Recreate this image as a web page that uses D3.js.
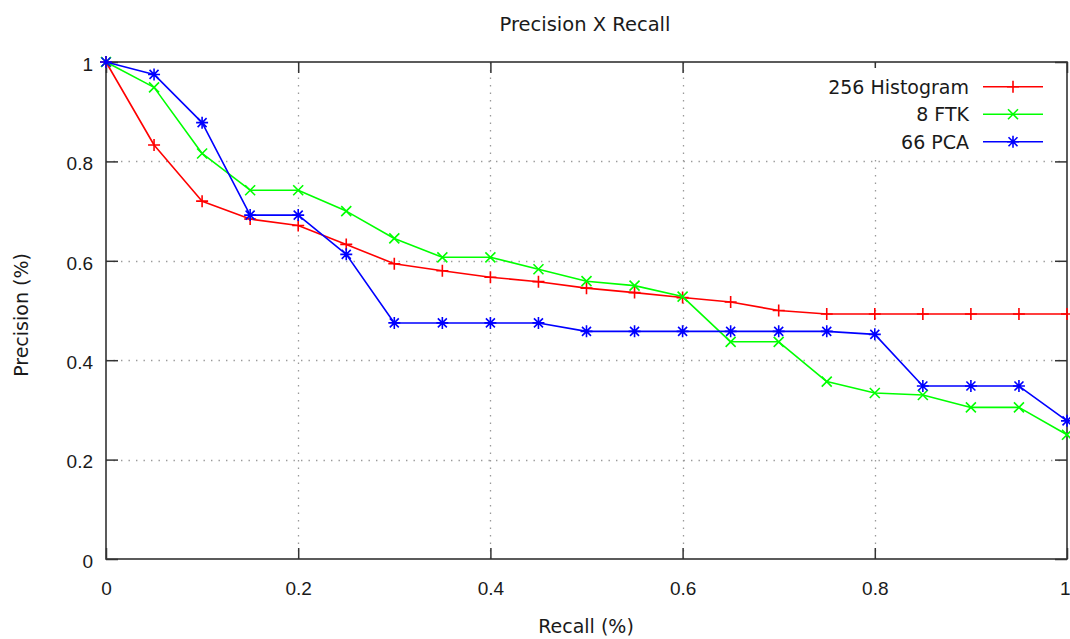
<!DOCTYPE html>
<html>
<head>
<meta charset="utf-8">
<script src="https://cdn.jsdelivr.net/npm/d3@7"></script>
<style>
  html, body { margin: 0; padding: 0; background: #fff; }
  svg { display: block; font-family: "DejaVu Sans", Verdana, sans-serif; }
</style>
</head>
<body>
<svg id="chart" width="1070" height="639"></svg>
<script>
// Recall levels shared by all three curves
const recall = [0, 0.05, 0.1, 0.15, 0.2, 0.25, 0.3, 0.35, 0.4, 0.45, 0.5,
                0.55, 0.6, 0.65, 0.7, 0.75, 0.8, 0.85, 0.9, 0.95, 1];

// Precision at each recall level
const histogram256 = [1.0, 0.833, 0.720, 0.684, 0.671, 0.633, 0.594, 0.580, 0.567, 0.558, 0.545,
                      0.536, 0.526, 0.517, 0.500, 0.493, 0.493, 0.493, 0.493, 0.493, 0.493];
const ftk8 = [1.0, 0.949, 0.816, 0.742, 0.742, 0.700, 0.645, 0.607, 0.607, 0.583, 0.559,
              0.550, 0.528, 0.437, 0.437, 0.357, 0.334, 0.330, 0.305, 0.305, 0.250];
const pca66 = [1.0, 0.975, 0.878, 0.692, 0.692, 0.613, 0.475, 0.475, 0.475, 0.475, 0.458,
               0.458, 0.458, 0.458, 0.458, 0.458, 0.452, 0.348, 0.348, 0.348, 0.278];

const seriesNames = ["256 Histogram", "8 FTK", "66 PCA"];
const seriesValues = [histogram256, ftk8, pca66];
const seriesColors = ["#ff0000", "#00ff00", "#0000ff"];
const seriesMarkers = ["plus", "cross", "star"];

const xTicks = [0, 0.2, 0.4, 0.6, 0.8, 1];
const yTicks = [0, 0.2, 0.4, 0.6, 0.8, 1];
const xTickLabels = ["0", "0.2", "0.4", "0.6", "0.8", "1"];
const yTickLabels = ["0", "0.2", "0.4", "0.6", "0.8", "1"];

const plot = { left: 106, right: 1067, top: 62, bottom: 559 };
const textColor = "#1a1a1a";
const axisColor = "#333";

const svg = d3.select("#chart");

const x = d3.scaleLinear().domain([0, 1]).range([plot.left, plot.right]);
const y = d3.scaleLinear().domain([0, 1]).range([plot.bottom, plot.top]);

// Dotted grid
const grid = svg.append("g").attr("class", "grid")
  .attr("stroke", "#9a9a9a").attr("stroke-width", 1.3)
  .attr("stroke-dasharray", "1.4,6.1");
grid.selectAll("line.v").data(xTicks.filter(d => d > 0 && d < 1)).join("line")
  .attr("class", "v")
  .attr("x1", d => Math.round(x(d)) + 0.5).attr("x2", d => Math.round(x(d)) + 0.5)
  .attr("y1", plot.bottom).attr("y2", plot.top);
grid.selectAll("line.h").data(yTicks.filter(d => d > 0 && d < 1)).join("line")
  .attr("class", "h")
  .attr("y1", d => Math.round(y(d)) + 0.5).attr("y2", d => Math.round(y(d)) + 0.5)
  .attr("x1", plot.left).attr("x2", plot.right);

// Axes with inward ticks, mirrored on top and right
function styleAxis(g) {
  g.select(".domain").remove();
  g.selectAll(".tick line").attr("stroke", axisColor).attr("stroke-width", 1.5);
  g.selectAll(".tick text").attr("fill", textColor).attr("font-size", 19);
}

svg.append("g")
  .attr("transform", `translate(0,${plot.bottom})`)
  .call(d3.axisBottom(x).tickValues(xTicks).tickSize(-11).tickPadding(23)
        .tickFormat((d, i) => xTickLabels[i]))
  .call(styleAxis)
  // keep the last label inside the page edge
  .call(g => g.selectAll(".tick text").filter(d => d === 1)
        .attr("text-anchor", "end").attr("x", 3));

svg.append("g")
  .attr("transform", `translate(${plot.left},0)`)
  .call(d3.axisLeft(y).tickValues(yTicks).tickSize(-12).tickPadding(13)
        .tickFormat((d, i) => yTickLabels[i]))
  .call(styleAxis)
  .call(g => g.selectAll(".tick text").attr("dy", "0.44em"));

svg.append("g")
  .attr("transform", `translate(0,${plot.top})`)
  .call(d3.axisTop(x).tickValues(xTicks).tickSize(-11).tickFormat(""))
  .call(styleAxis);

svg.append("g")
  .attr("transform", `translate(${plot.right},0)`)
  .call(d3.axisRight(y).tickValues(yTicks).tickSize(-12).tickFormat(""))
  .call(styleAxis);

// Legend background blanks the grid behind the key
svg.append("rect")
  .attr("x", 815).attr("y", 68).attr("width", 245).attr("height", 87)
  .attr("fill", "#fff");

// Border
svg.append("rect")
  .attr("x", plot.left).attr("y", plot.top)
  .attr("width", plot.right - plot.left).attr("height", plot.bottom - plot.top)
  .attr("fill", "none").attr("stroke", axisColor).attr("stroke-width", 1.6);

// Point symbols
const markerPaths = {
  plus: "M-6,0H6M0,-6V6",
  cross: "M-5,-5L5,5M-5,5L5,-5",
  star: "M-6,0H6M0,-6V6M-4.5,-4.5L4.5,4.5M-4.5,4.5L4.5,-4.5"
};

const line = d3.line().x(d => x(d[0])).y(d => y(d[1]));

const series = svg.append("g").attr("class", "series");
seriesValues.forEach((vals, si) => {
  const pts = recall.map((r, i) => [r, vals[i]]);
  const g = series.append("g");
  g.append("path")
    .attr("d", line(pts))
    .attr("fill", "none")
    .attr("stroke", seriesColors[si])
    .attr("stroke-width", 1.6)
    .attr("stroke-linejoin", "round");
  g.selectAll("path.mk").data(pts).join("path")
    .attr("class", "mk")
    .attr("transform", d => `translate(${x(d[0])},${y(d[1])})`)
    .attr("d", markerPaths[seriesMarkers[si]])
    .attr("fill", "none")
    .attr("stroke", seriesColors[si])
    .attr("stroke-width", 1.6);
});

// Legend
const legend = svg.append("g").attr("class", "legend");
const legendY = [86.7, 114.2, 141.7];
seriesNames.forEach((name, si) => {
  const ly = legendY[si];
  legend.append("text")
    .attr("x", 969).attr("y", ly + 6.8)
    .attr("text-anchor", "end")
    .attr("font-size", 19)
    .attr("fill", textColor)
    .text(name);
  legend.append("line")
    .attr("x1", 983).attr("x2", 1043).attr("y1", ly).attr("y2", ly)
    .attr("stroke", seriesColors[si]).attr("stroke-width", 1.6);
  legend.append("path")
    .attr("transform", `translate(1013,${ly})`)
    .attr("d", markerPaths[seriesMarkers[si]])
    .attr("fill", "none")
    .attr("stroke", seriesColors[si]).attr("stroke-width", 1.6);
});

// Title and axis labels
svg.append("text")
  .attr("x", 585).attr("y", 30.5)
  .attr("text-anchor", "middle")
  .attr("font-size", 19.5)
  .attr("fill", textColor)
  .text("Precision X Recall");

svg.append("text")
  .attr("x", 586).attr("y", 633)
  .attr("text-anchor", "middle")
  .attr("font-size", 19)
  .attr("fill", textColor)
  .text("Recall (%)");

svg.append("text")
  .attr("transform", "translate(28,315) rotate(-90)")
  .attr("text-anchor", "middle")
  .attr("font-size", 19)
  .attr("fill", textColor)
  .text("Precision (%)");
</script>
</body>
</html>
